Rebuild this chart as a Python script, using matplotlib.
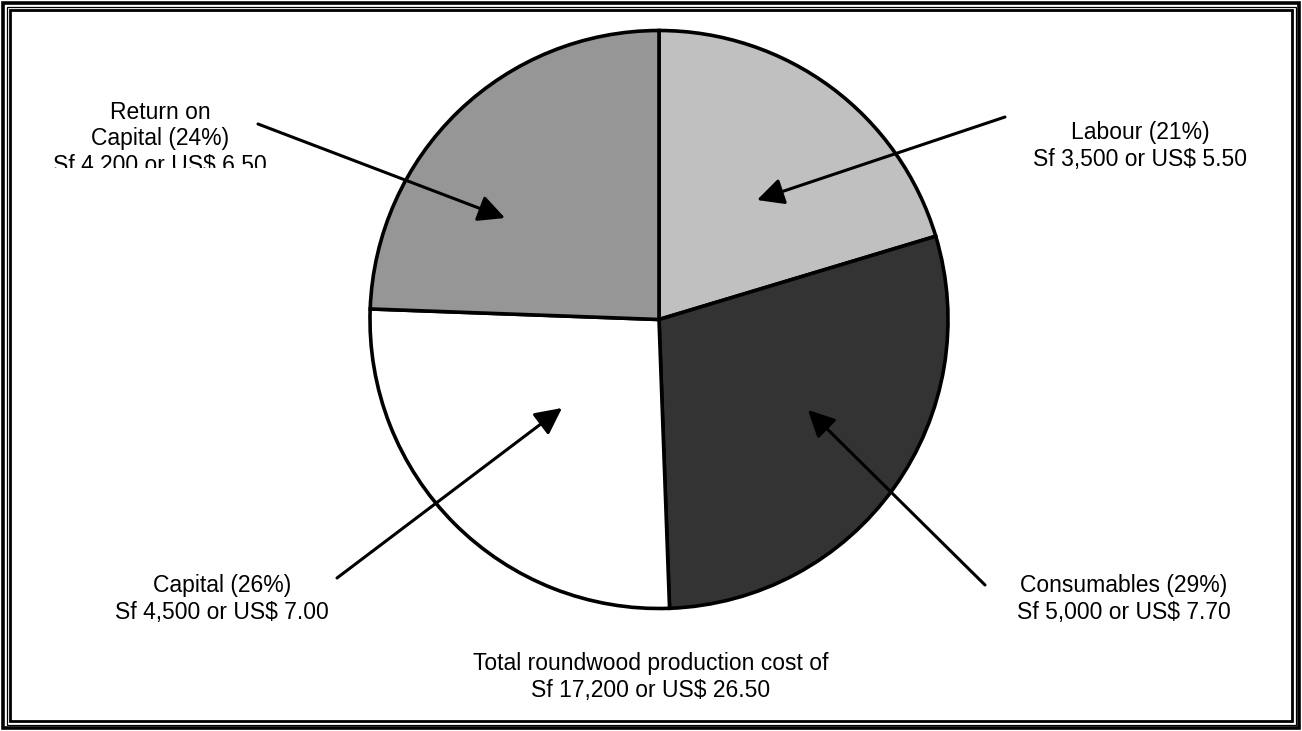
import matplotlib.pyplot as plt
from matplotlib.patches import Rectangle

# cost shares, Sf per m3
categories = ['Labour', 'Consumables', 'Capital', 'Return on Capital']
sf_costs = [3500, 5000, 4500, 4200]
colors = ['#c0c0c0', '#333333', '#ffffff', '#969696']

labels = [
    'Labour (21%)\nSf 3,500 or US$ 5.50',
    'Consumables (29%)\nSf 5,000 or US$ 7.70',
    'Capital (26%)\nSf 4,500 or US$ 7.00',
    'Return on\nCapital (24%)\nSf 4,200 or US$ 6.50',
]
total_label = 'Total roundwood production cost of\nSf 17,200 or US$ 26.50'

W, H = 1302, 731
plt.rcParams['font.family'] = ['Liberation Sans', 'DejaVu Sans']

fig = plt.figure(figsize=(W / 100, H / 100), dpi=100)
ax = fig.add_axes([0, 0, 1, 1])
ax.set_xlim(0, W)
ax.set_ylim(H, 0)
ax.axis('off')

# pie drawn in its own axes so angles stay normal
pax = fig.add_axes([0, 0, 1, 1])
pax.pie(sf_costs, colors=colors, startangle=90, counterclock=False,
        center=(659, H - 319.5), radius=289, frame=True,
        wedgeprops=dict(edgecolor='black', linewidth=2.6))
pax.set_xlim(0, W)
pax.set_ylim(0, H)
pax.set_aspect('auto')
pax.axis('off')

# label block centres (pixels from top-left) and arrow tail/head
label_pos = [(1140, 146), (1124, 599), (222, 599), (160, 139)]
arrows = [((1005, 117), (757, 200)),
          ((985, 585), (808, 410)),
          ((337, 578), (562, 408)),
          ((258, 124), (505, 218))]

for lab, (x, y), (tail, head) in zip(labels, label_pos, arrows):
    t = pax.text(x, H - y, lab, ha='center', va='center', fontsize=16.5,
                 linespacing=1.2)
    if lab.startswith('Return'):
        # the last line is cut off in the original
        clip = Rectangle((0, H - 168), W, 168, transform=pax.transData)
        t.set_clip_path(clip)
        t.set_clip_on(True)
    pax.annotate('', xy=(head[0], H - head[1]), xytext=(tail[0], H - tail[1]),
                 arrowprops=dict(arrowstyle='-|>,head_length=0.9,head_width=0.45',
                                 color='black', lw=2.2, mutation_scale=18,
                                 shrinkA=0, shrinkB=0))

pax.text(651, H - 677, total_label, ha='center', va='center', fontsize=16.5,
         linespacing=1.2)

# triple frame round the picture
for off, lw in [(3, 2.6), (6.5, 0.9), (10, 2.0)]:
    ax.add_patch(Rectangle((off, off), W - 2 * off, H - 2 * off, fill=False,
                           edgecolor='black', linewidth=lw))

fig.savefig('out.png', dpi=100)
